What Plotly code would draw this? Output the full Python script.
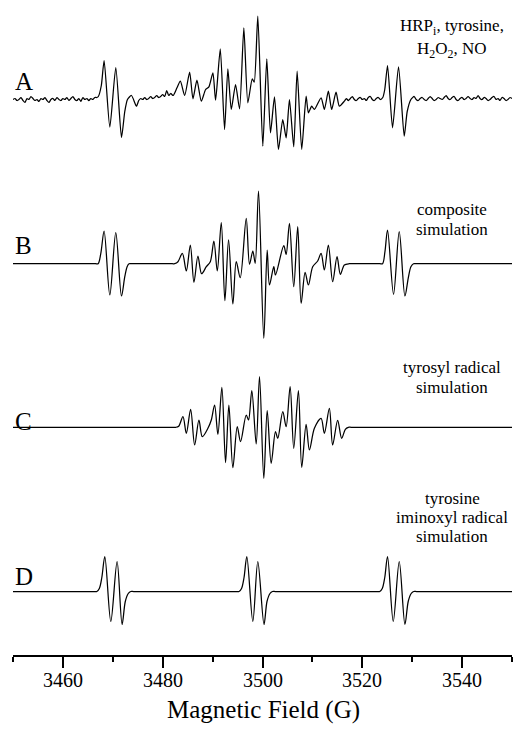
import plotly.graph_objects as go

# ---------------- data (field in gauss, signal in arbitrary units) ----------------
a_baseline_left = [
    (3450.0, 0), (3450.4, 1), (3450.8, -1), (3451.2, 0), (3451.6, 2), (3452.0, -1),
    (3452.4, -3), (3452.8, 1), (3453.2, 0), (3453.6, 3), (3454.0, 1), (3454.4, -1),
    (3454.8, 0), (3455.2, -2), (3455.6, 1), (3456.0, 0), (3456.4, 2), (3456.8, -1),
    (3457.2, -3), (3457.6, 0), (3458.0, 1), (3458.4, -1), (3458.8, 2), (3459.2, 0),
    (3459.6, -1), (3460.0, 1), (3460.4, 0), (3460.8, 2), (3461.2, -1), (3461.6, 1),
    (3462.0, 3), (3462.4, 0), (3462.8, -1), (3463.2, 1), (3463.6, -2), (3464.0, 2),
    (3464.4, 0), (3464.8, 1), (3465.2, -1), (3465.6, 1), (3466.0, 0), (3466.4, 2),
    (3466.8, 2)]
a_doublet_left = [
    (3467.1, 3), (3467.7, 14), (3468.26, 39), (3469.4, -27.6), (3470.6, 32),
    (3471.74, -38), (3472.4, -12), (3472.94, 0), (3473.74, 4), (3474.74, -6.7)]
a_baseline_mid_left = [
    (3475.2, -1), (3475.6, 1), (3476.0, 0), (3476.4, 2), (3476.8, 0), (3477.2, 1),
    (3477.6, 3), (3478.0, 1), (3478.4, 2), (3478.8, 4), (3479.2, 2), (3479.6, 3),
    (3480.0, 5), (3480.4, 3), (3480.8, 9), (3481.2, 4), (3481.6, 6), (3482.1, 4)]
a_center = [
    (3482.86, 11.7), (3483.54, 18.3), (3484.4, 4), (3485.4, 27.3), (3486.06, 0.7),
    (3486.86, 19.3), (3487.74, -1.7), (3488.6, 10), (3489.26, 12.7), (3490.06, 26.7),
    (3490.6, -0.7), (3491.54, 50.7), (3492.4, -30), (3493.06, 30.7), (3493.74, -10),
    (3494.6, 15), (3495.4, -9.3), (3496.26, 71.7), (3497.06, -3.3), (3497.94, 20.7),
    (3498.34, 17.3), (3499.06, 83.3), (3500.06, -46.7), (3500.86, 40.7), (3501.6, -33.3),
    (3502.4, 2.7), (3503.2, -50), (3504.06, -20), (3504.74, -38.3), (3505.4, 0),
    (3506.26, -47.3), (3506.94, 28.3), (3507.86, -50), (3508.74, 3.3), (3509.2, -13.3),
    (3509.86, -6.7), (3510.4, -10), (3511.74, 1.7), (3512.4, -10), (3513.2, 8.3),
    (3513.86, -10), (3514.74, 7.3), (3515.4, -6.7), (3516.4, -1.7)]
a_baseline_mid_right = [
    (3516.8, 1), (3517.2, -1), (3517.6, 1), (3518.0, 3), (3518.4, 0), (3518.8, -1),
    (3519.2, 1), (3519.6, 2), (3520.0, 0), (3520.4, 1), (3520.8, -1), (3521.2, 2),
    (3521.6, 3), (3522.0, 0), (3522.4, -1), (3522.8, 1), (3523.2, 2), (3523.6, 0),
    (3524.1, 2)]
a_doublet_right = [
    (3524.5, 10), (3525.06, 34), (3526.06, -28.3), (3527.26, 32.7), (3528.4, -36.7),
    (3529.0, -12), (3529.74, 0)]
a_baseline_right = [
    (3530.4, 3), (3530.8, 0), (3531.2, -1), (3531.6, 1), (3532.0, 2), (3532.4, 0),
    (3532.8, -1), (3533.2, 1), (3533.6, 3), (3534.0, 1), (3534.4, -1), (3534.8, 0),
    (3535.2, 2), (3535.6, 1), (3536.0, 0), (3536.4, 2), (3536.8, 4), (3537.2, 1),
    (3537.6, 0), (3538.0, 2), (3538.4, 3), (3538.8, 0), (3539.2, -1), (3539.6, 1),
    (3540.0, 2), (3540.4, 0), (3540.8, 1), (3541.2, 3), (3541.6, 1), (3542.0, 0),
    (3542.4, 2), (3542.8, 1), (3543.2, 4), (3543.6, 1), (3544.0, 0), (3544.4, 2),
    (3544.8, 1), (3545.2, -1), (3545.6, 0), (3546.0, 2), (3546.4, 3), (3546.8, 0),
    (3547.2, 1), (3547.6, -1), (3548.0, 2), (3548.4, 1), (3548.8, -1), (3549.2, 0),
    (3549.6, 2), (3550.0, 1)]

# Panel B: composite simulation
b_field = [3450.0, 3466.5, 3467.06, 3467.6, 3468.26, 3469.4, 3470.6, 3471.74, 3472.4, 3472.87,
           3473.26, 3473.8, 3481.9, 3482.4, 3483.06, 3483.94, 3484.74, 3485.54, 3486.26, 3487.06,
           3487.8, 3488.74, 3489.54, 3490.26, 3490.94, 3491.74, 3492.46, 3493.2, 3494.06, 3494.74,
           3495.54, 3496.74, 3497.4, 3498.06, 3498.54, 3499.2, 3500.26, 3500.94, 3501.4, 3502.26,
           3502.6, 3504.26, 3504.74, 3505.4, 3506.26, 3507.06, 3507.74, 3508.54, 3509.2, 3510.06,
           3511.06, 3511.74, 3512.4, 3513.2, 3514.06, 3514.94, 3515.6, 3516.4, 3517.4, 3518.0,
           3523.5, 3524.06, 3524.54, 3525.06, 3526.26, 3527.4, 3528.54, 3529.2, 3529.74, 3530.26,
           3530.8, 3550.0]
b_signal = [0, 0, 0, 10.4, 32.7, -31.3, 31, -32.3, -13, -3,
            0, 0, 0, 0, 2, 10.4, -7.3, 18.7, -18.6, 7.7,
            -10, -3, 2, 22.7, -7.3, 41, -37, 23.7, -40.3, 2,
            -14, 45.4, -0.6, 12.7, 0.4, 72.7, -74.6, 13.7, -21.3, -3,
            -11.3, 18, 9.4, 40.4, -23, 37, -39.6, -8.6, -21.3, -3,
            2.7, 10.4, -6.3, 18.7, -18, 7, -10.6, -1.3, 0, 0,
            0, 0, 12, 33.7, -30.6, 32, -32.3, -14.6, -3, 0,
            0, 0]

# Panel C: tyrosyl radical simulation
c_field = [3450.0, 3482.0, 3482.6, 3483.2, 3484.06, 3484.74, 3485.6, 3486.4, 3487.26, 3487.94,
           3489.06, 3489.74, 3490.4, 3491.06, 3491.86, 3492.6, 3493.26, 3494.06, 3494.94, 3495.6,
           3496.74, 3497.2, 3497.86, 3498.74, 3499.4, 3500.26, 3500.94, 3501.74, 3502.6, 3503.06,
           3504.06, 3504.74, 3505.54, 3506.26, 3507.2, 3507.86, 3508.74, 3509.4, 3510.4, 3511.74,
           3512.4, 3513.4, 3514.06, 3515.06, 3515.86, 3516.6, 3517.2, 3517.8, 3550.0]
c_signal = [0, 0, 0, 1, 10.6, -6, 18, -17.7, 7.3, -9.4,
            -1, 7.3, 22.3, -7, 40, -35.4, 22.3, -40.4, 0.6, -14.4,
            12.3, 7.3, 36.6, -16.7, 50.6, -51, 16.6, -36, -4.4, -11,
            15.6, 0.6, 40.6, -21, 36.6, -40, 3, -22.7, -1, 9,
            -6, 19, -17.7, 7, -11, -2, 0, 0, 0]

# Panel D: tyrosine iminoxyl radical simulation
d_field = [3450.0, 3466.3, 3466.8, 3467.3, 3467.8, 3468.4, 3469.6, 3470.86, 3471.86, 3472.5,
           3473.1, 3473.6, 3474.2, 3494.7, 3495.3, 3495.8, 3496.3, 3496.86, 3498.06, 3499.06,
           3500.3, 3500.9, 3501.5, 3502.0, 3502.6, 3522.9, 3523.5, 3524.0, 3524.5, 3525.06,
           3526.2, 3527.4, 3528.54, 3529.2, 3529.8, 3530.3, 3530.9, 3550.0]
d_signal = [0, 0, 0, 3, 14, 35, -30, 30, -33, -10,
            -2, 0, 0, 0, 0, 3, 14, 35, -30, 30,
            -33, -10, -2, 0, 0, 0, 0, 3, 14, 35,
            -30, 30, -33, -10, -2, 0, 0, 0]

panel_letters = ["A", "B", "C", "D"]
captions = [
    ["HRP<sub>i</sub>, tyrosine,", "H<sub>2</sub>O<sub>2</sub>, NO"],
    ["composite", "simulation"],
    ["tyrosyl radical", "simulation"],
    ["tyrosine", "iminoxyl radical", "simulation"],
]
x_tick_vals = [3460, 3480, 3500, 3520, 3540]
x_tick_text = ["3460", "3480", "3500", "3520", "3540"]
x_minor_vals = [3450, 3470, 3490, 3510, 3530, 3550]
x_title = "Magnetic Field (G)"

# ---------------- layout geometry (pixels) ----------------
W, H = 513, 733
ML, MR, MT, MB = 13, 1, 0, 78
PH = H - MT - MB
PW = W - ML - MR


def fy(p):
    return 1 - (p - MT) / PH


def fx(p):
    return (p - ML) / PW


bands = [  # (top px, bottom px, baseline px)
    (0, 165, 99.5),
    (165, 345, 263.7),
    (345, 500, 427.3),
    (500, 655, 591.5),
]
letter_y = [81, 245.8, 421.7, 576.5]
caption_y = [[27, 50], [209, 230], [367.5, 387.5], [498.5, 517.5, 536]]
tick_label_y = 679.5

SERIF = "Liberation Serif"

a_points = (a_baseline_left + a_doublet_left + a_baseline_mid_left + a_center
            + a_baseline_mid_right + a_doublet_right + a_baseline_right)
a_field = [p[0] for p in a_points]
a_signal = [p[1] for p in a_points]

fig = go.Figure()
series = [(a_field, a_signal, 0.6), (b_field, b_signal, 0.9),
          (c_field, c_signal, 0.9), (d_field, d_signal, 0.9)]
for i, (xs, ys, sm) in enumerate(series):
    fig.add_trace(go.Scatter(
        x=xs, y=ys, mode="lines", xaxis="x", yaxis="y" if i == 0 else f"y{i+1}",
        line=dict(color="black", width=1.25, shape="spline", smoothing=sm),
        hoverinfo="skip", showlegend=False))

layout = dict(
    width=W, height=H, margin=dict(l=ML, r=MR, t=MT, b=MB),
    paper_bgcolor="white", plot_bgcolor="white", showlegend=False,
    font=dict(family=SERIF, color="black"),
    xaxis=dict(range=[3450, 3550], anchor="y4", showline=True, linecolor="black",
               linewidth=2, ticks="outside", tickmode="array", tickvals=x_tick_vals,
               showticklabels=False, ticklen=11, tickwidth=1.5, tickcolor="black",
               showgrid=False, zeroline=False, fixedrange=True,
               minor=dict(tickvals=x_minor_vals, ticks="outside", ticklen=5,
                          tickwidth=1.5, tickcolor="black", showgrid=False)),
)
for i, (top, bot, base) in enumerate(bands):
    name = "yaxis" if i == 0 else f"yaxis{i+1}"
    layout[name] = dict(domain=[fy(bot), fy(top)], range=[-(bot - base), base - top],
                        visible=False, fixedrange=True, anchor="x")

ann = []
for letter, ly in zip(panel_letters, letter_y):
    ann.append(dict(text=letter, x=fx(13), y=fy(ly), xref="paper", yref="paper",
                    xanchor="left", yanchor="middle", showarrow=False,
                    font=dict(family=SERIF, size=25, color="black")))
for lines, ys in zip(captions, caption_y):
    for t, yy in zip(lines, ys):
        ann.append(dict(text=t, x=fx(452), y=fy(yy), xref="paper", yref="paper",
                        xanchor="center", yanchor="middle", showarrow=False,
                        font=dict(family=SERIF, size=17, color="black")))
for tv, tt in zip(x_tick_vals, x_tick_text):
    ann.append(dict(text=tt, x=tv, y=fy(tick_label_y), xref="x", yref="paper",
                    xanchor="center", yanchor="middle", showarrow=False,
                    font=dict(family=SERIF, size=20, color="black")))
ann.append(dict(text=x_title, x=fx(263), y=fy(710), xref="paper", yref="paper",
                xanchor="center", yanchor="middle", showarrow=False,
                font=dict(family=SERIF, size=25, color="black")))
layout["annotations"] = ann

fig.update_layout(**layout)
fig.write_html("out.html")
